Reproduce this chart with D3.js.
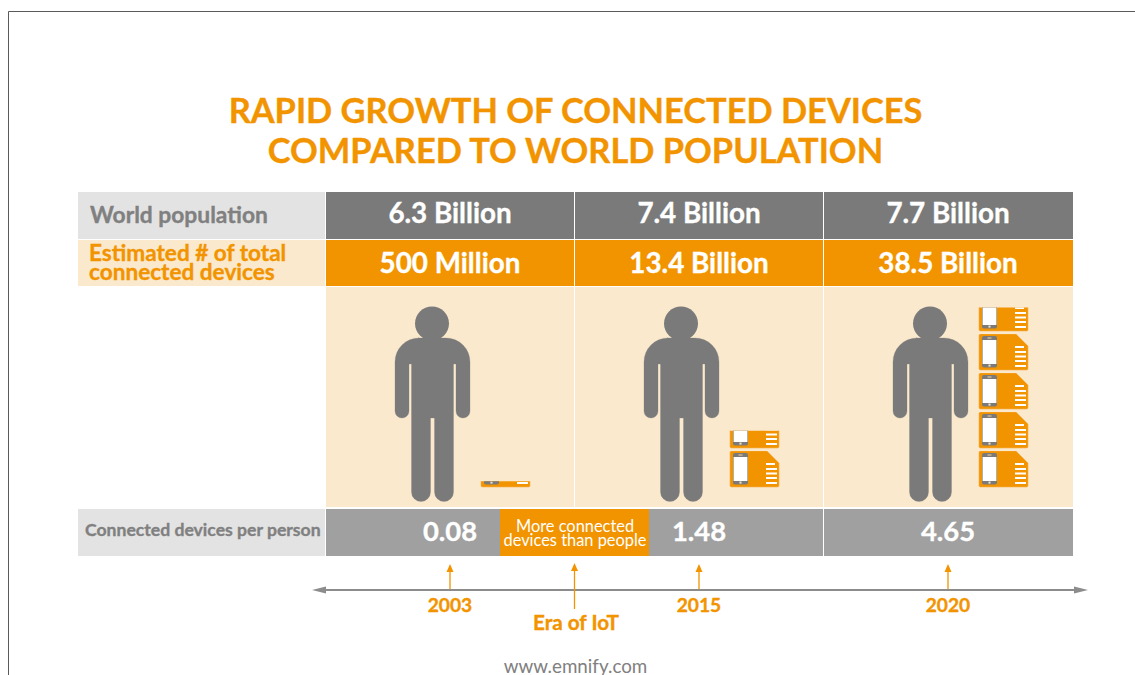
<!DOCTYPE html>
<html><head><meta charset="utf-8">
<script src="https://cdn.jsdelivr.net/npm/d3@7/dist/d3.min.js"></script>
<style>html,body{margin:0;padding:0;background:#fff;overflow:hidden}svg{display:block}text{font-family:Lato,sans-serif}text.b{stroke-width:0.35px;paint-order:stroke}</style>
</head><body><svg id="c" width="1135" height="675"></svg>
<script>
const titleLines = ["RAPID GROWTH OF CONNECTED DEVICES", "COMPARED TO WORLD POPULATION"];
const years = ["2003", "2015", "2020"];
const population = ["6.3 Billion", "7.4 Billion", "7.7 Billion"];
const devices = ["500 Million", "13.4 Billion", "38.5 Billion"];
const perPerson = ["0.08", "1.48", "4.65"];
const iconCounts = [0.16, 1.48, 4.65];
const rowLabelPopulation = "World population";
const rowLabelDevices = ["Estimated # of total", "connected devices"];
const rowLabelRatio = "Connected devices per person";
const calloutLines = ["More connected", "devices than people"];
const eraLabel = "Era of IoT";
const footer = "www.emnify.com";

const ORANGE = "#f29400", CREAM = "#fbe9cd", DARK = "#7a7a7a", MID = "#a0a0a0", LIGHT = "#e3e3e3", AXIS = "#8c8c8c";
const svg = d3.select("#c");
const x = d3.scaleBand().domain(years).range([325.5, 1072.5]).padding(0);
const cx = d => x(d) + x.bandwidth() / 2;
const unit = d3.scaleLinear().domain([0, 5]).range([487, 292]); // one device icon = 39 px pitch
const iconH = 36, iconW = 49;
const bold = (sel, col) => sel.attr("class", "b").attr("font-weight", 700).attr("fill", col).attr("stroke", col);

// frame
svg.append("path").attr("d", "M8.5,675V11.5H1135").attr("fill", "none").attr("stroke", "#5a5a5a").attr("stroke-width", 1);

// title
bold(svg.append("g").selectAll("text").data(titleLines).join("text")
  .attr("x", 575.5).attr("y", (d, i) => 123 + i * 40).attr("text-anchor", "middle")
  .attr("font-size", 34.4).text(d => d), ORANGE);

// rows
const rows = [
  {y: 192, h: 47, fill: DARK, label: LIGHT, vals: population, fs: 27.8, by: 223},
  {y: 240, h: 46, fill: ORANGE, label: CREAM, vals: devices, fs: 27.8, by: 273},
  {y: 287, h: 220, fill: CREAM, label: null, vals: null},
  {y: 509, h: 47, fill: MID, label: LIGHT, vals: perPerson, fs: 27.4, by: 541}
];
rows.forEach(r => {
  if (r.label) svg.append("rect").attr("x", 78).attr("y", r.y).attr("width", 247).attr("height", r.h).attr("fill", r.label);
  svg.append("g").selectAll("rect").data(years).join("rect")
    .attr("x", d => x(d) + 0.5).attr("y", r.y)
    .attr("width", (d, i) => x.bandwidth() - 1 + (i === years.length - 1 ? 1 : 0)).attr("height", r.h).attr("fill", r.fill);
});

// callout spans the row's gap between 2003 and 2015
const calloutCx = x(years[1]);
svg.append("rect").attr("x", calloutCx - 74.5).attr("y", 509).attr("width", 149).attr("height", 47).attr("fill", ORANGE);
svg.append("g").selectAll("text").data(calloutLines).join("text")
  .attr("x", calloutCx + 0.5).attr("y", (d, i) => 532 + i * 14).attr("text-anchor", "middle")
  .attr("font-size", 16.4).attr("fill", "#fff").text(d => d);

// row values
rows.filter(r => r.vals).forEach(r => {
  bold(svg.append("g").selectAll("text").data(r.vals).join("text")
    .attr("x", (d, i) => cx(years[i])).attr("y", r.by).attr("text-anchor", "middle")
    .attr("font-size", r.fs).text(d => d), "#fff");
});

// row labels
bold(svg.append("text").attr("x", 90).attr("y", 223).attr("font-size", 22.8).text(rowLabelPopulation), "#808080");
bold(svg.append("g").selectAll("text").data(rowLabelDevices).join("text")
  .attr("x", 89).attr("y", (d, i) => 261 + i * 19).attr("font-size", 22.6).text(d => d), ORANGE);
bold(svg.append("text").attr("x", 85).attr("y", 536).attr("font-size", 17.6).text(rowLabelRatio), "#808080");

// glyphs
const personPath = (() => {
  const p = d3.path();
  // relative to head centre x, shoulder top y = 0
  p.moveTo(-14, 0); p.lineTo(14, 0);
  p.arc(14, 24, 24, -Math.PI / 2, 0);          // right shoulder
  p.lineTo(38, 70); p.arc(31, 73, 7, 0, Math.PI); // right arm end
  p.lineTo(24, 26); p.lineTo(21.5, 26);
  p.lineTo(21.5, 154); p.arc(12, 154, 9.5, 0, Math.PI); // right leg
  p.lineTo(2.5, 80); p.lineTo(-1.5, 80);
  p.lineTo(-1.5, 154); p.arc(-11, 154, 9.5, 0, Math.PI); // left leg
  p.lineTo(-20.5, 26); p.lineTo(-23, 26);
  p.lineTo(-23, 73); p.arc(-30, 73, 7, 0, Math.PI); // left arm end
  p.lineTo(-37, 24);
  p.arc(-13, 24, 24, Math.PI, Math.PI * 1.5);
  p.closePath();
  return p.toString();
})();

const defs = svg.append("defs");
function drawIcon(g) {
  g.append("path").attr("d", `M1.5,0H37L49,12V34.5a1.5,1.5 0 0 1 -1.5,1.5H1.5A1.5,1.5 0 0 1 0,34.5V1.5A1.5,1.5 0 0 1 1.5,0Z`)
    .attr("fill", ORANGE).attr("stroke", "#f7b04f").attr("stroke-width", 0.6);
  g.append("rect").attr("x", 3).attr("y", 2).attr("width", 15).attr("height", 31.5).attr("rx", 2).attr("fill", DARK);
  g.append("rect").attr("x", 3.6).attr("y", 6).attr("width", 13.8).attr("height", 24).attr("fill", "#fff");
  g.append("rect").attr("x", 9.5).attr("y", 30.6).attr("width", 2).attr("height", 2).attr("fill", "#f4e3c8");
  g.append("rect").attr("x", 8.5).attr("y", 3.2).attr("width", 4).attr("height", 1.6).attr("fill", "#c9b08c");
  d3.zip([36, 36, 36, 36, 36], [9, 11, 11, 11, 11], [13, 18, 22.5, 27, 32]).forEach(([a, w, b]) => {
    g.append("rect").attr("x", a).attr("y", b - 1).attr("width", w).attr("height", 2).attr("fill", "#fff");
  });
}

years.forEach((yr, i) => {
  const c = cx(yr);
  const g = svg.append("g").attr("transform", `translate(${c - 18},338)`);
  g.append("circle").attr("cy", -14.5).attr("cx", 0).attr("r", 17).attr("fill", DARK);
  g.append("path").attr("d", personPath).attr("fill", DARK).attr("stroke", DARK).attr("stroke-width", 0.3);

  const n = iconCounts[i];
  const full = Math.floor(n), frac = n - full;
  const ix = c + 31;
  for (let k = 0; k < Math.ceil(n); k++) {
    const top = unit(k + 1) + 3;      // full icon top
    const ig = svg.append("g").attr("transform", `translate(${ix},${top})`);
    const share = k < full ? 1 : frac;
    const id = `clip${i}_${k}`;
    defs.append("clipPath").attr("id", id).append("rect")
      .attr("x", -2).attr("y", iconH * (1 - share)).attr("width", iconW + 4).attr("height", iconH * share + 2);
    const inner = ig.append("g").attr("clip-path", `url(#${id})`);
    drawIcon(inner);
  }
});

// timeline
const tl = svg.append("g");
const tlY = 590;
tl.append("line").attr("x1", 322).attr("x2", 1078).attr("y1", tlY).attr("y2", tlY).attr("stroke", AXIS).attr("stroke-width", 2);
tl.append("path").attr("d", `M312,${tlY}L326,${tlY - 3.5}V${tlY + 3.5}Z`).attr("fill", AXIS);
tl.append("path").attr("d", `M1088,${tlY}L1074,${tlY - 3.5}V${tlY + 3.5}Z`).attr("fill", AXIS);

function upArrow(xp, y0, y1) {
  tl.append("line").attr("x1", xp).attr("x2", xp).attr("y1", y0).attr("y2", y1 + 6).attr("stroke", ORANGE).attr("stroke-width", 1.3);
  tl.append("path").attr("d", `M${xp},${y1}L${xp + 3.5},${y1 + 8}H${xp - 3.5}Z`).attr("fill", ORANGE);
}
years.forEach(yr => {
  upArrow(cx(yr), 589, 564);
  bold(tl.append("text").attr("x", cx(yr)).attr("y", 612).attr("text-anchor", "middle")
    .attr("font-size", 19.2).text(yr), ORANGE);
});
upArrow(x(years[1]), 609, 563);
bold(tl.append("text").attr("x", x(years[1]) + 1.5).attr("y", 630).attr("text-anchor", "middle")
  .attr("font-size", 20.7).text(eraLabel), ORANGE);

svg.append("text").attr("x", 575.5).attr("y", 673).attr("text-anchor", "middle")
  .attr("font-size", 18.8).attr("fill", "#808080").text(footer);
</script></body></html>
